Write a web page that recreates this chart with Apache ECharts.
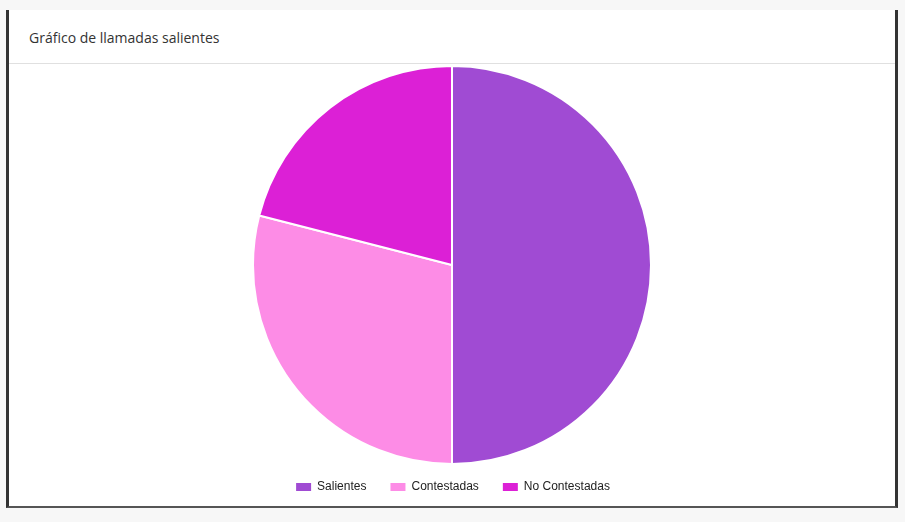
<!DOCTYPE html>
<html><head><meta charset="utf-8">
<script src="https://cdn.jsdelivr.net/npm/echarts@6/dist/echarts.min.js"></script>
<style>
body{margin:0;background:#f7f7f7;width:905px;height:522px;overflow:hidden;font-family:"Open Sans",sans-serif;}
#card{position:absolute;left:6px;top:10px;width:886px;height:496px;background:#fff;border-left:3px solid #333;border-right:3px solid #333;border-bottom:2px solid #555;}
#hdr{height:54px;border-bottom:1px solid #e0e0e0;box-sizing:border-box;padding-left:20px;line-height:56px;font-size:14px;color:#333;}
#c{width:886px;height:442px;}
</style></head><body>
<div id="card"><div id="hdr">Gráfico de llamadas salientes</div><div id="c"></div></div>
<script>
const categories=["Salientes","Contestadas","No Contestadas"];
const values=[50,29,21];
const colors=["#a04bd3","#fd8ce6","#dc20d6"];
const ch=echarts.init(document.getElementById('c'));
ch.setOption({
 animation:false,
 color:colors,
 legend:{bottom:8,left:'center',itemWidth:17,itemHeight:10,itemGap:22,icon:'rect',textStyle:{fontFamily:'Liberation Sans, Arial',fontSize:12,color:'#222'},data:categories},
 series:[{type:'pie',center:[443,201],radius:199,startAngle:90,label:{show:false},labelLine:{show:false},
  itemStyle:{borderColor:'#fff',borderWidth:2},
  data:categories.map((n,i)=>({name:n,value:values[i]}))}]
});
</script></body></html>
